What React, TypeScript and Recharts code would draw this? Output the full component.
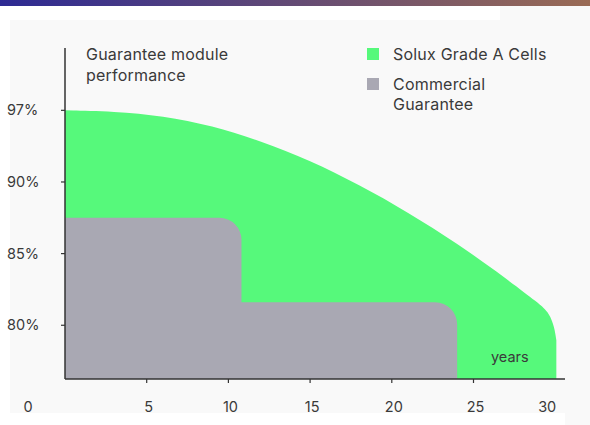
import { AreaChart, Area, XAxis, YAxis, Legend } from "recharts";

// Solux Grade A Cells curve (years, % performance)
const soluxYears = [0, 3, 6, 9, 12, 15, 18, 21, 24, 27, 29, 29.65, 29.95, 30.07];
const soluxPerf = [97, 96.9, 96.46, 95.5, 94.0, 92.1, 89.8, 87.88, 85.73, 83.26, 81.53, 80.84, 79.86, 78.95];

// commercial guarantee steps
const guaranteeYears = [0, 10.8, 24];
const guaranteePerf = [87.5, 81.6, 81.6];

const yTicks = [80, 85, 90, 97];
const xTicks = [0, 5, 10, 15, 20, 25, 30];
const legendOrder = ["Solux Grade A Cells", "Commercial Guarantee"];
const legendLines: Record<string, string[]> = {
  "Solux Grade A Cells": ["Solux Grade A Cells"],
  "Commercial Guarantee": ["Commercial", "Guarantee"],
};

const FONT = "Inter, 'Noto Sans', sans-serif";
const TEXT = "#3a3a3a";
const GREEN = "#56f97b";
const GREY = "#a9a8b3";

// the y ticks are evenly spaced even though the % steps are not
function toLevel(p: number) {
  if (p >= 90) return 3 + (p - 90) / 7;
  return 1 + (p - 80) / 5;
}
const levelToPerf = (l: number) => yTicks[Math.round(l) - 1];

const solux = soluxYears.map((year, i) => ({ year, level: toLevel(soluxPerf[i]) }));
const guarantee = guaranteeYears.map((year, i) => ({ year, level: toLevel(guaranteePerf[i]) }));

// step-after curve with rounded outer corners
const roundedStep = (r: number) => (ctx: any) => {
  let pts: number[][] = [];
  let line = NaN;
  return {
    areaStart() { line = 0; },
    areaEnd() { line = NaN; },
    lineStart() { pts = []; },
    point(x: number, y: number) { pts.push([+x, +y]); },
    lineEnd() {
      pts.forEach(([x, y], i) => {
        if (i === 0) {
          if (line === 1) ctx.lineTo(x, y);
          else ctx.moveTo(x, y);
          return;
        }
        const py = pts[i - 1][1];
        const last = i === pts.length - 1;
        if (line === 0 && last && y === py) {
          ctx.arcTo(x, py, x, py + 100, r);
        } else if (line !== 1 && y > py) {
          ctx.arcTo(x, py, x, y, r);
          ctx.lineTo(x, y);
        } else {
          ctx.lineTo(x, py);
          ctx.lineTo(x, y);
        }
      });
      if (line === 1) ctx.closePath();
      line = 1 - line;
    },
  };
};

const YTick = ({ y, payload }: any) => (
  <text x={7} y={y + 5} fontSize={14.5} fill={TEXT} fontFamily={FONT}>
    {levelToPerf(payload.value)}%
  </text>
);

const XTick = ({ x, y, payload }: any) => {
  const v = payload.value;
  const dx = v === 0 ? -37 : v === 30 ? -8 : 2;
  return (
    <g>
      {v > 0 && v < 30 && <line x1={x} x2={x} y1={y - 4} y2={y} stroke="#333" strokeWidth={1.2} />}
      <text x={x + dx} y={y + 29} textAnchor="middle" fontSize={14.5} fill={TEXT} fontFamily={FONT}>
        {v}
      </text>
    </g>
  );
};

const renderLegend = ({ payload }: any) => {
  const items = [...(payload || [])].sort(
    (a: any, b: any) => legendOrder.indexOf(a.value) - legendOrder.indexOf(b.value)
  );
  return (
    <div style={{ fontFamily: FONT, fontSize: 16, letterSpacing: 0.2, lineHeight: "20px", color: TEXT }}>
      {items.map((p: any) => (
        <div key={p.value} style={{ display: "flex", alignItems: "flex-start", marginBottom: 10 }}>
          <span style={{ width: 12, height: 12, background: p.color, marginTop: 4, marginRight: 14, flex: "none" }} />
          <span style={{ whiteSpace: "nowrap" }}>
            {(legendLines[p.value] || [p.value]).map((t) => (
              <div key={t}>{t}</div>
            ))}
          </span>
        </div>
      ))}
    </div>
  );
};

export default function App() {
  return (
    <div style={{ position: "absolute", left: 0, top: 0, width: 590, height: 425, background: "#fff", overflow: "hidden" }}>
      <div style={{ position: "absolute", left: 0, top: 0, width: 590, height: 6, background: "linear-gradient(90deg, #2d2a93, #9a6b55)" }} />
      <div style={{ position: "absolute", left: 10, top: 20, width: 555, height: 393, background: "#f9f9f9" }} />
      <div style={{ position: "absolute", left: 500, top: 6, width: 90, height: 14, background: "#f9f9f9" }} />
      <div style={{ position: "absolute", left: 565, top: 6, width: 25, height: 419, background: "#f9f9f9" }} />

      <div style={{ position: "absolute", left: 0, top: 0 }}>
        <AreaChart width={590} height={425} margin={{ top: 48, right: 25, bottom: 16, left: 5 }}>
          <XAxis
            dataKey="year"
            type="number"
            domain={[0, 30.6]}
            ticks={xTicks}
            allowDataOverflow
            axisLine={{ stroke: "#333", strokeWidth: 1.5 }}
            tickLine={false}
            tickSize={4}
            tickMargin={0}
            height={30}
            tick={<XTick />}
            interval={0}
          />
          <YAxis
            type="number"
            domain={[0.25, 4.87]}
            ticks={[1, 2, 3, 4]}
            allowDataOverflow
            width={60}
            axisLine={{ stroke: "#333", strokeWidth: 1.5 }}
            tickLine={{ stroke: "#333", strokeWidth: 1.2 }}
            tickSize={4}
            tick={<YTick />}
            interval={0}
          />
          <Legend
            content={renderLegend}
            layout="vertical"
            align="center"
            verticalAlign="middle"
            wrapperStyle={{ position: "absolute", left: 367, top: 44, width: 210 }}
          />
          <Area
            data={solux}
            dataKey="level"
            name="Solux Grade A Cells"
            type="basis"
            fill={GREEN}
            fillOpacity={1}
            stroke="none"
            baseValue="dataMin"
            isAnimationActive={false}
            legendType="square"
            color={GREEN}
          />
          <Area
            data={guarantee}
            dataKey="level"
            name="Commercial Guarantee"
            type={roundedStep(22) as any}
            fill={GREY}
            fillOpacity={1}
            stroke="none"
            baseValue="dataMin"
            isAnimationActive={false}
            legendType="square"
            color={GREY}
          />
        </AreaChart>
      </div>

      <div style={{ position: "absolute", left: 86, top: 44, fontFamily: FONT, fontSize: 16, letterSpacing: 0.2, lineHeight: "21px", color: TEXT }}>
        Guarantee module
        <br />
        performance
      </div>
      <div style={{ position: "absolute", left: 491, top: 348, fontFamily: FONT, fontSize: 14.5, color: TEXT }}>years</div>
    </div>
  );
}
